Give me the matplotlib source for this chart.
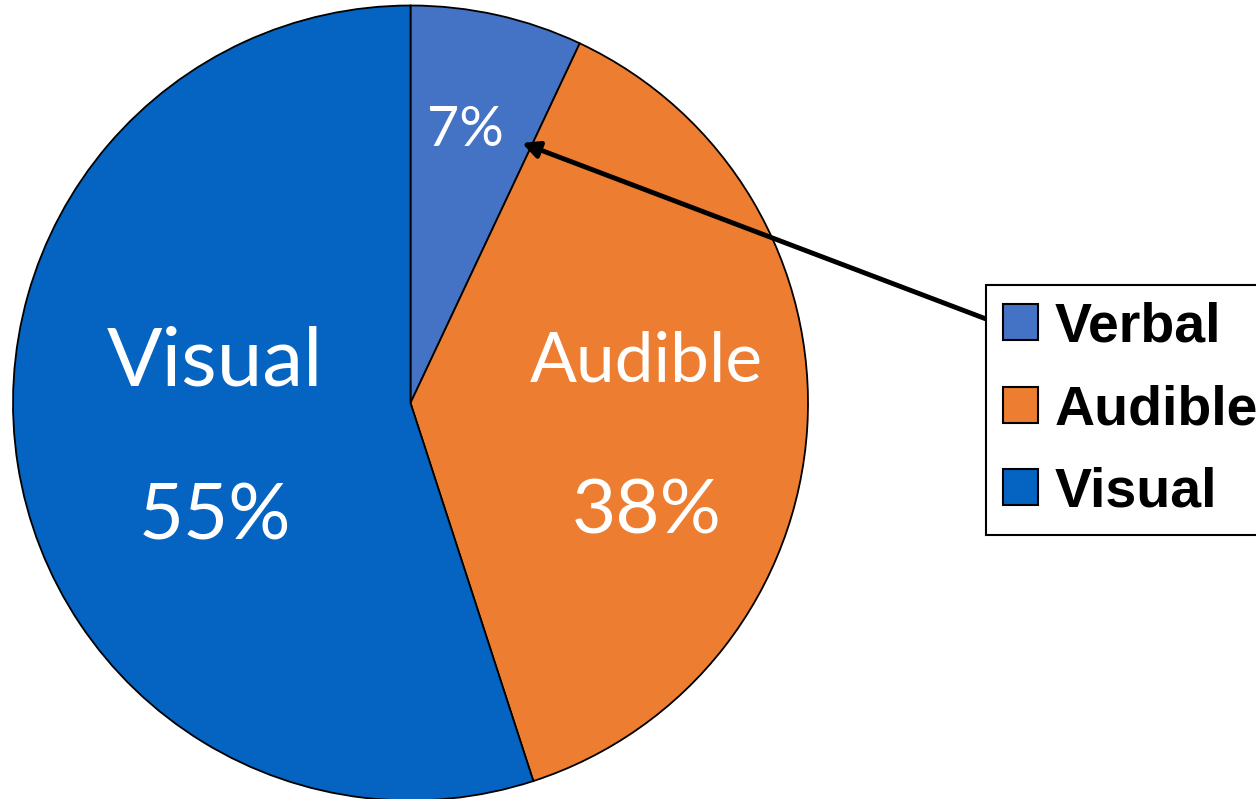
import matplotlib.pyplot as plt

# Datos
categorias = ["Verbal", "Audible", "Visual"]
valores = [7, 38, 55]
colores = ["#4472C4", "#ED7D31", "#0563C1"]

W, H = 1256, 799
fig = plt.figure(figsize=(W / 100, H / 100), dpi=100)
ax = fig.add_axes([0, 0, 1, 1])

cx, cy, r = 410.5, H - 403, 397.5
wedges, _ = ax.pie(valores, colors=colores, startangle=90, counterclock=False,
                   center=(cx, cy), radius=r, frame=True,
                   wedgeprops=dict(edgecolor="black", linewidth=1.3))
ax.set_xlim(0, W)
ax.set_ylim(0, H)
ax.set_aspect("equal")
ax.axis("off")

# Etiquetas dentro de las porciones
fuente = "Lato"
ax.text(215, H - 362, categorias[2], color="white", fontsize=59, family=fuente,
        ha="center", va="center")
ax.text(215, H - 518, f"{valores[2]}%", color="white", fontsize=56, family=fuente,
        ha="center", va="center")
ax.text(646, H - 362, categorias[1], color="white", fontsize=50, family=fuente,
        ha="center", va="center")
ax.text(647, H - 512, f"{valores[1]}%", color="white", fontsize=55, family=fuente,
        ha="center", va="center")
ax.text(465, H - 130, f"{valores[0]}%", color="white", fontsize=40, family=fuente,
        ha="center", va="center")

# Leyenda
leg = ax.legend(wedges, categorias, loc="upper left",
                bbox_to_anchor=(986 / W, 1 - 285 / H), bbox_transform=fig.transFigure,
                prop=dict(family="Liberation Sans", weight="bold", size=40),
                frameon=True, fancybox=False, edgecolor="black", framealpha=1,
                handlelength=0.63, handleheight=0.63, handletextpad=0.3,
                labelspacing=0.55, borderpad=0.3, borderaxespad=0)
leg.get_frame().set_linewidth(1.5)
for h in leg.legend_handles:
    h.set_edgecolor("black")
    h.set_linewidth(1.5)

# Flecha desde la leyenda hasta la porción verbal
ax.annotate("", xy=(522, H - 143), xytext=(1002, H - 325),
            arrowprops=dict(arrowstyle="-|>", color="black", lw=3.5,
                            mutation_scale=25, shrinkA=0, shrinkB=0))

fig.savefig("out.png", dpi=100)
